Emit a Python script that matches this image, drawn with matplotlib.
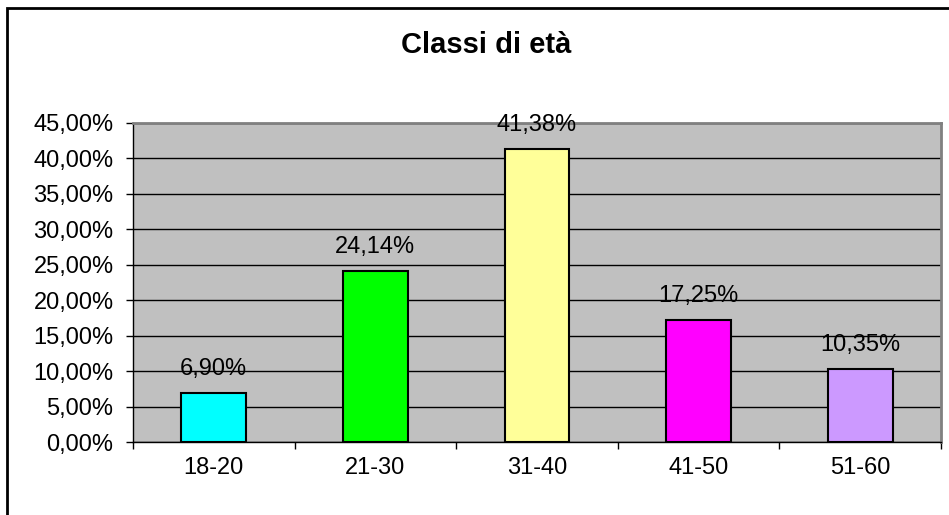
import matplotlib
matplotlib.use("Agg")
import matplotlib.pyplot as plt
from matplotlib.patches import Rectangle
from matplotlib.ticker import FixedLocator

categories = ["18-20", "21-30", "31-40", "41-50", "51-60"]
values = [6.90, 24.14, 41.38, 17.25, 10.35]
colors = ["#00FFFF", "#00FF00", "#FFFF99", "#FF00FF", "#CC99FF"]
yticks = [0, 5, 10, 15, 20, 25, 30, 35, 40, 45]

plt.rcParams['font.family'] = ['Liberation Sans', 'DejaVu Sans']

fig = plt.figure(figsize=(9.49, 5.15), dpi=100)
W, H = 949, 515
ax = fig.add_axes([133 / W, 1 - 442 / H, (941 - 133) / W, (442 - 123) / H])
ax.set_facecolor("#C0C0C0")

fs = 17
x = list(range(len(categories)))
ax.bar(x, values, width=0.4, color=colors, edgecolor="black", linewidth=1.5, zorder=3)
for xi, v in zip(x, values):
    ax.annotate(f"{v:.2f}%".replace(".", ","), (xi, v), xytext=(0, 17),
                textcoords="offset points", ha="center", va="center", fontsize=fs, zorder=4)

ax.set_xlim(-0.5, len(categories) - 0.5)
ax.set_ylim(0, 45)
ax.set_yticks(yticks)
ax.set_yticklabels([f"{t:.2f}%".replace(".", ",") for t in yticks], fontsize=fs)
ax.yaxis.grid(True, color="black", linewidth=1.0, zorder=1)
ax.set_axisbelow(True)

ax.set_xticks(x)
ax.set_xticklabels(categories, fontsize=fs)
ax.tick_params(axis="x", length=0, pad=11)
ax.xaxis.set_minor_locator(FixedLocator([i - 0.5 for i in range(len(categories) + 1)]))
ax.tick_params(axis="x", which="minor", length=5, width=1, color="black", direction="out")
ax.tick_params(axis="y", length=5, width=1, color="black", direction="out", pad=9)

for s in ["top", "right"]:
    ax.spines[s].set_color("#808080")
    ax.spines[s].set_linewidth(2)
ax.spines["left"].set_color("black")
ax.spines["bottom"].set_color("black")
ax.spines["left"].set_linewidth(1)
ax.spines["bottom"].set_linewidth(1)

fig.text(486 / W, 1 - 45 / H, "Classi di età", ha="center", va="center",
         fontsize=21, fontweight="bold")

border = Rectangle((7 / W, -0.1), 1.2, 1 - 8 / H + 0.1, transform=fig.transFigure,
                   fill=False, edgecolor="black", linewidth=2, clip_on=False)
fig.patches.append(border)

fig.savefig("out.png", dpi=100)
